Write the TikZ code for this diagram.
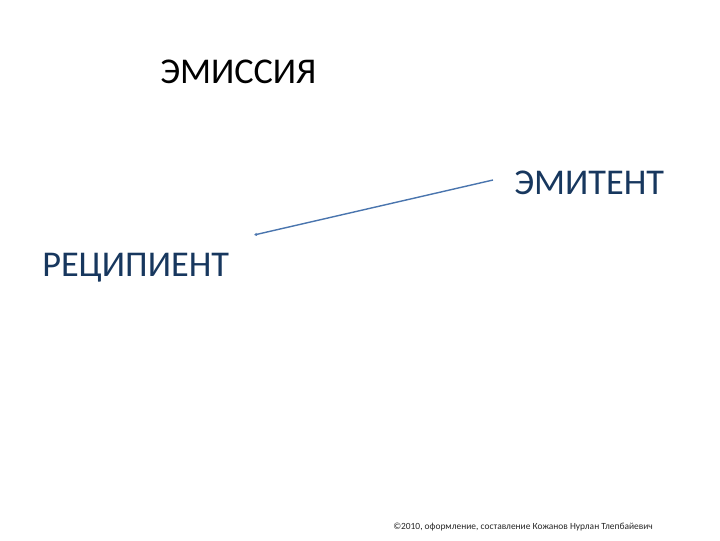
\documentclass[tikz,border=0pt]{standalone}
\usepackage{fontspec}
\setmainfont{Carlito}
\usetikzlibrary{arrows.meta}
\definecolor{titleblue}{HTML}{17375E}
\definecolor{lineblue}{HTML}{4A75AE}
\tikzset{bigword/.style={font=\fontsize{25.8}{30}\selectfont,inner sep=0pt}}
\begin{document}
\begin{tikzpicture}[x=0.025cm,y=-0.025cm]
           \useasboundingbox (0,0) rectangle (720,540);
           \node[bigword,black,anchor=west] (emission) at (160,72) {ЭМИССИЯ};
           \node[bigword,titleblue,anchor=west] (emitter) at (514,183) {ЭМИТЕНТ};
           \node[bigword,titleblue,anchor=west] (recipient) at (42,268) {РЕЦИПИЕНТ};
           \coordinate (linestart) at (493,180);
           \coordinate (lineend) at (254,235);
           \draw[lineblue,line width=1pt,-{Latex[length=2pt,width=2.5pt]}] (linestart) to (lineend);
           \node[font=\fontsize{6.7}{8}\selectfont,black!85,anchor=west,inner sep=0pt] (copyright) at (393,527) {©2010, оформление, составление Кожанов Нурлан Тлепбайевич};
\end{tikzpicture}
\end{document}
